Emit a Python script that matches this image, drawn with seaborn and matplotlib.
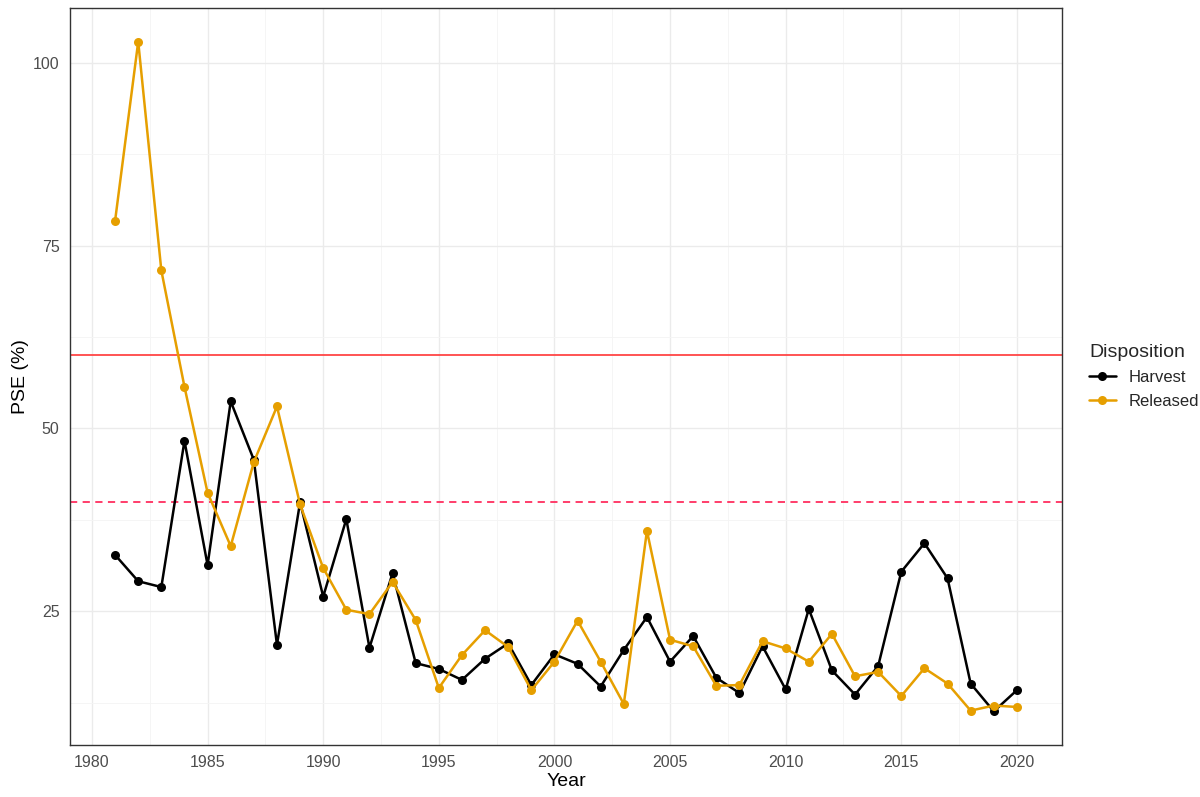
"""PSE (%) by year for harvested and released catch, ggplot-style line chart."""

import matplotlib
matplotlib.use("Agg")
import matplotlib.pyplot as plt
from matplotlib.ticker import MultipleLocator
import pandas as pd
import seaborn as sns

years = list(range(1981, 2021))

harvest = [32.7, 29.1, 28.3, 48.3, 31.3, 53.7, 45.7, 20.4, 39.9, 27.0,
           37.6, 20.0, 30.2, 17.9, 17.1, 15.6, 18.5, 20.6, 14.9, 19.1,
           17.8, 14.7, 19.7, 24.2, 18.1, 21.6, 15.9, 13.8, 20.2, 14.3,
           25.3, 16.9, 13.6, 17.5, 30.4, 34.3, 29.5, 15.1, 11.3, 14.2]

released = [78.4, 102.9, 71.6, 55.7, 41.2, 33.9, 45.4, 53.0, 39.6, 30.9,
            25.2, 24.6, 29.0, 23.8, 14.5, 19.0, 22.4, 20.1, 14.2, 18.1,
            23.7, 18.1, 12.3, 36.0, 21.1, 20.2, 14.8, 14.9, 20.9, 19.9,
            18.1, 21.9, 16.1, 16.7, 13.4, 17.2, 15.1, 11.4, 12.1, 11.9]

df = pd.DataFrame({
    "Year": years * 2,
    "PSE": harvest + released,
    "Disposition": ["Harvest"] * len(years) + ["Released"] * len(years),
})

sns.set_style("white")
plt.rcParams["font.family"] = ["Liberation Sans", "DejaVu Sans"]

fig, ax = plt.subplots(figsize=(12, 7.97), dpi=100)
fig.subplots_adjust(left=70 / 1200, right=1062 / 1200, top=1 - 8 / 797, bottom=1 - 745 / 797)

# reference lines
ax.axhline(60, color="#FF4545", lw=1.3, zorder=1)
ax.axhline(40, color="#FF2E5F", lw=1.3, ls=(0, (4, 3)), zorder=1)

sns.lineplot(
    data=df, x="Year", y="PSE", hue="Disposition",
    palette={"Harvest": "black", "Released": "#E69F00"},
    marker="o", markersize=6.5, markeredgewidth=0, linewidth=1.8,
    ax=ax, zorder=3,
)

ax.set_xlim(1979.05, 2021.95)
ax.set_ylim(6.7, 107.5)
ax.xaxis.set_major_locator(MultipleLocator(5))
ax.xaxis.set_minor_locator(MultipleLocator(2.5))
ax.yaxis.set_major_locator(MultipleLocator(25))
ax.yaxis.set_minor_locator(MultipleLocator(12.5))
ax.set_yticks([25, 50, 75, 100])

ax.grid(which="major", color="#EBEBEB", lw=1.0, zorder=0)
ax.grid(which="minor", color="#F4F4F4", lw=0.6, zorder=0)
ax.set_axisbelow(True)

for s in ax.spines.values():
    s.set_color("#333333")
    s.set_linewidth(1.0)

ax.tick_params(which="major", direction="out", length=4, width=0.9,
               color="#333333", labelsize=11.5, labelcolor="#4D4D4D")
ax.tick_params(which="minor", length=0)

ax.set_xlabel("Year", fontsize=14, color="black", labelpad=2)
ax.set_ylabel("PSE (%)", fontsize=14, color="black", labelpad=3)

leg = ax.legend(title="Disposition", loc="center left", bbox_to_anchor=(1.012, 0.5),
                frameon=False, fontsize=12, title_fontsize=14,
                handlelength=1.6, labelspacing=0.55)
leg._legend_box.align = "left"

plt.savefig("out.png", dpi=100)
